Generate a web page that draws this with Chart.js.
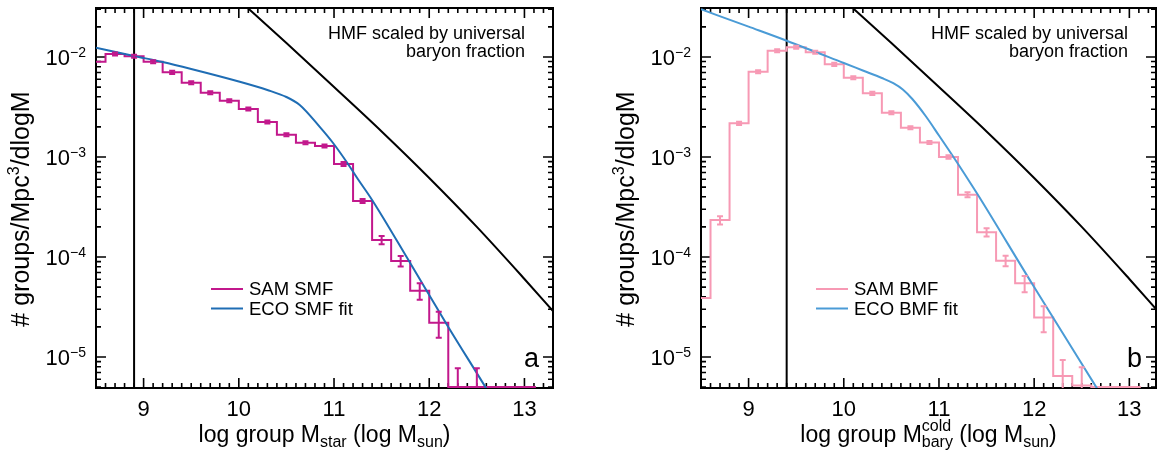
<!DOCTYPE html>
<html><head><meta charset="utf-8">
<script src="https://cdn.jsdelivr.net/npm/chart.js@4.4.1/dist/chart.umd.min.js"></script>
<style>
html,body{margin:0;padding:0;background:#fff;}
#wrap{position:relative;width:1157px;height:453px;overflow:hidden;}
canvas{position:absolute;top:0;}
</style></head><body>
<div id="wrap">
<canvas id="cA" width="578" height="453" style="left:0"></canvas>
<canvas id="cB" width="552" height="453" style="left:605px"></canvas>
</div>
<script>
// ---------- data ----------
const binEdges = [8.4,8.6,8.8,9.0,9.2,9.4,9.6,9.8,10.0,10.2,10.4,10.6,10.8,11.0,11.2,11.4,11.6,11.8,12.0,12.2,12.4,12.6,12.8,13.0,13.12];

const smfValues = [8.97e-3,1.07e-2,1.02e-2,8.97e-3,7.03e-3,5.53e-3,4.40e-3,3.66e-3,3.02e-3,2.24e-3,1.67e-3,1.39e-3,1.29e-3,8.51e-4,3.63e-4,1.48e-4,9.12e-5,4.60e-5,2.20e-5,0,0,0,0,0];
const smfErrors = [0,3.7e-4,3.6e-4,3.1e-4,2.5e-4,1.9e-4,1.5e-4,1.3e-4,1.1e-4,7.8e-5,5.8e-5,4.9e-5,4.5e-5,4.0e-5,1.7e-5,1.42e-5,1.1e-5,8.6e-6,6.4e-6,7.7e-6,7.7e-6,0,0,0];

const bmfValues = [3.9e-5,2.34e-4,2.17e-3,7.13e-3,1.156e-2,1.25e-2,1.114e-2,8.45e-3,6.2e-3,4.33e-3,2.77e-3,1.96e-3,1.40e-3,1.00e-3,4.2e-4,1.77e-4,9.2e-5,5.45e-5,2.49e-5,6.45e-6,5.2e-6,0,0,0];
const bmfErrors = [0,2.2e-5,7.6e-5,2.5e-4,4.0e-4,4.4e-4,3.9e-4,3.0e-4,2.2e-4,1.5e-4,9.7e-5,6.9e-5,4.9e-5,4.0e-5,2.5e-5,1.7e-5,1.1e-5,1.0e-5,7.2e-6,2.9e-6,2.7e-6,0,0,0];

const smfFitX = [8.5,8.9,9.2,9.5,10.0,10.3,10.5,10.64,10.85,10.99,11.14,11.25,11.4,11.8,12.2,12.59,12.8];
const smfFitY = [1.239e-2,1.023e-2,8.91e-3,7.59e-3,5.69e-3,4.68e-3,3.98e-3,3.31e-3,2.00e-3,1.38e-3,8.71e-4,6.03e-4,3.72e-4,8.71e-5,2.00e-5,5.01e-6,2.34e-6];

const bmfFitX = [8.5,9.0,9.4,10.0,10.2,10.4,10.52,10.62,10.72,10.86,11.0,11.18,11.35,11.42,11.98,12.66,12.8];
const bmfFitY = [3.00e-2,2.01e-2,1.455e-2,8.71e-3,7.33e-3,6.17e-3,5.47e-3,4.73e-3,3.80e-3,2.57e-3,1.64e-3,9.12e-4,5.13e-4,4.03e-4,5.37e-5,4.86e-6,2.95e-6];

const hmfX = [10.0,10.5,11.0,11.5,12.0,12.5,13.0,13.3];
const hmfY = [3.72e-2,1.38e-2,5.01e-3,1.80e-3,6.17e-4,2.00e-4,6.03e-5,2.88e-5];

const smfLimit = 8.9;
const bmfLimit = 9.4;

const xTickLabels = [9,10,11,12,13];
const yTickExponents = [-5,-4,-3,-2];

const Y_MIN = 4.9e-6, Y_MAX = 3.09e-2, ZERO_FLOOR = 5.0e-6;

// ---------- helpers ----------
const FONT = '"Liberation Sans", Arial, Helvetica, sans-serif';
function stepData(edges, vals) {
  const pts = vals.map((v, i) => ({ x: edges[i], y: v > 0 ? v : ZERO_FLOOR }));
  pts.push({ x: edges[edges.length - 1], y: pts[pts.length - 1].y });
  return pts;
}
function partWidth(ctx, p) {
  ctx.font = p.size + 'px ' + FONT;
  if (p.stack) return Math.max(ctx.measureText(p.sup).width, ctx.measureText(p.sub).width);
  return ctx.measureText(p.t).width;
}
function drawRich(ctx, parts, x, y, align) {
  let w = 0;
  for (const p of parts) w += partWidth(ctx, p);
  let cx = align === 'center' ? x - w / 2 : (align === 'right' ? x - w : x);
  ctx.textAlign = 'left';
  ctx.textBaseline = 'alphabetic';
  for (const p of parts) {
    const pw = partWidth(ctx, p);
    ctx.font = p.size + 'px ' + FONT;
    if (p.stack) {
      ctx.fillText(p.sup, cx, y + p.supDy);
      ctx.fillText(p.sub, cx, y + p.subDy);
    } else {
      ctx.fillText(p.t, cx, y + (p.dy || 0));
    }
    cx += pw;
  }
}

const panelPlugin = {
  id: 'panel',
  beforeDatasetsDraw(chart, args, o) {
    const ctx = chart.ctx, ca = chart.chartArea;
    const xs = chart.scales.x, ys = chart.scales.y;
    ctx.save();
    ctx.strokeStyle = '#000';
    ctx.lineWidth = 1.6;
    ctx.beginPath();
    for (let k = Math.ceil(xs.min * 10 - 1e-6); k <= Math.floor(xs.max * 10 + 1e-6); k++) {
      const px = xs.getPixelForValue(k / 10);
      const len = (k % 10 === 0) ? 10 : 5;
      ctx.moveTo(px, ca.bottom); ctx.lineTo(px, ca.bottom - len);
      ctx.moveTo(px, ca.top); ctx.lineTo(px, ca.top + len);
    }
    for (let e = -6; e <= -1; e++) {
      for (let m = 1; m <= 9; m++) {
        const v = m * Math.pow(10, e);
        if (v < ys.min || v > ys.max) continue;
        const py = ys.getPixelForValue(v);
        const len = m === 1 ? 10 : 5;
        ctx.moveTo(ca.left, py); ctx.lineTo(ca.left + len, py);
        ctx.moveTo(ca.right, py); ctx.lineTo(ca.right - len, py);
      }
    }
    ctx.stroke();
    ctx.lineWidth = 2;
    ctx.strokeRect(ca.left, ca.top, ca.right - ca.left, ca.bottom - ca.top);
    ctx.restore();
  },
  afterDatasetsDraw(chart, args, o) {
    const ctx = chart.ctx, ca = chart.chartArea;
    const xs = chart.scales.x, ys = chart.scales.y;
    // error bars
    ctx.save();
    ctx.beginPath();
    ctx.rect(ca.left, ca.top - 2, ca.right - ca.left, ca.bottom - ca.top + 2);
    ctx.clip();
    ctx.strokeStyle = o.errColor;
    ctx.lineWidth = 2;
    ctx.beginPath();
    for (let i = 0; i < o.values.length; i++) {
      const e = o.errors[i];
      if (!(e > 0)) continue;
      const v = o.values[i];
      const c = (binEdges[i] + binEdges[i + 1]) / 2;
      const px = xs.getPixelForValue(c);
      const yT = ys.getPixelForValue(v + e);
      const hasLow = v - e > 0;
      const yB = hasLow ? ys.getPixelForValue(v - e) : ca.bottom + 2;
      ctx.moveTo(px, yT); ctx.lineTo(px, yB);
      ctx.moveTo(px - 3, yT); ctx.lineTo(px + 3, yT);
      if (hasLow) { ctx.moveTo(px - 3, yB); ctx.lineTo(px + 3, yB); }
    }
    ctx.stroke();
    ctx.restore();

    ctx.save();
    ctx.fillStyle = '#000';
    for (const ex of yTickExponents) {
      const py = ys.getPixelForValue(Math.pow(10, ex));
      drawRich(ctx, [{ t: '10', size: 22, dy: 8 }, { t: '\u2212' + Math.abs(ex), size: 14, dy: 0 }], ca.left - 10, py, 'right');
    }
    drawRich(ctx, o.xTitle, (ca.left + ca.right) / 2, 442, 'center');
    ctx.save();
    ctx.translate(ca.left - 67, ca.top + 201);
    ctx.rotate(-Math.PI / 2);
    drawRich(ctx, [{ t: '# groups/Mpc', size: 25 }, { t: '3', size: 16, dy: -10 }, { t: '/dlogM', size: 25 }], 0, 0, 'center');
    ctx.restore();
    ctx.font = '18px ' + FONT;
    ctx.textAlign = 'right';
    ctx.textBaseline = 'alphabetic';
    ctx.fillText('HMF scaled by universal', ca.right - 28, ca.top + 31);
    ctx.fillText('baryon fraction', ca.right - 28, ca.top + 49);
    ctx.font = '27px ' + FONT;
    ctx.fillText(o.letter, ca.right - 14, ca.top + 359);
    const rows = chart.data.datasets.filter(d => d.legendRow !== undefined).sort((a, b) => a.legendRow - b.legendRow);
    rows.forEach((d, r) => {
      const ly = ca.top + 281 + r * 19.5;
      ctx.strokeStyle = d.borderColor;
      ctx.lineWidth = 2;
      ctx.beginPath();
      ctx.moveTo(ca.left + 115, ly); ctx.lineTo(ca.left + 147, ly);
      ctx.stroke();
      ctx.fillStyle = '#000';
      ctx.font = '18.5px ' + FONT;
      ctx.textAlign = 'left';
      ctx.textBaseline = 'middle';
      ctx.fillText(d.label, ca.left + 153, ly + 1);
    });
    ctx.restore();
  }
};

function makePanel(id, P) {
  return new Chart(document.getElementById(id), {
    type: 'line',
    data: {
      datasets: [
        { label: P.fitLabel, data: P.fitX.map((x, i) => ({ x, y: P.fitY[i] })), borderColor: P.fitColor, borderWidth: 2, pointRadius: 0, cubicInterpolationMode: 'monotone', legendRow: 1 },
        { label: P.histLabel, data: stepData(binEdges, P.histY), borderColor: P.histColor, borderWidth: 2, pointRadius: 0, stepped: true, legendRow: 0 },
        { label: 'HMF', data: hmfX.map((x, i) => ({ x, y: hmfY[i] })), borderColor: '#000', borderWidth: 2, pointRadius: 0, cubicInterpolationMode: 'monotone' },
        { label: 'limit', data: [{ x: P.limit, y: Y_MIN }, { x: P.limit, y: Y_MAX }], borderColor: '#000', borderWidth: 2, pointRadius: 0 }
      ]
    },
    options: {
      responsive: false,
      animation: false,
      events: [],
      layout: { padding: { top: 8, right: P.padRight, left: 0, bottom: 0 } },
      scales: {
        x: {
          type: 'linear', min: 8.5, max: P.xMax,
          grid: { display: false, drawTicks: false }, border: { display: false },
          ticks: { font: { family: FONT, size: 22 }, color: '#000', padding: 9, autoSkip: false, maxRotation: 0 },
          afterBuildTicks: s => { s.ticks = xTickLabels.map(v => ({ value: v })); },
          afterFit: s => { s.height = 65; }
        },
        y: {
          type: 'logarithmic', min: Y_MIN, max: Y_MAX,
          grid: { display: false, drawTicks: false }, border: { display: false },
          ticks: { display: false },
          afterFit: s => { s.width = 96; }
        }
      },
      plugins: {
        legend: { display: false },
        tooltip: { enabled: false },
        panel: { values: P.histY, errors: P.histErr, errColor: P.histColor, letter: P.letter, xTitle: P.xTitle }
      }
    },
    plugins: [panelPlugin]
  });
}

makePanel('cA', {
  fitLabel: 'ECO SMF fit', fitX: smfFitX, fitY: smfFitY, fitColor: '#1f6db4',
  histLabel: 'SAM SMF', histY: smfValues, histErr: smfErrors, histColor: '#c2188c',
  limit: smfLimit, letter: 'a', xMax: 13.3, padRight: 25,
  xTitle: [{ t: 'log group M', size: 23 }, { t: 'star', size: 16, dy: 5 }, { t: ' (log M', size: 23 }, { t: 'sun', size: 16, dy: 5 }, { t: ')', size: 23 }]
});
makePanel('cB', {
  fitLabel: 'ECO BMF fit', fitX: bmfFitX, fitY: bmfFitY, fitColor: '#4a9bd6',
  histLabel: 'SAM BMF', histY: bmfValues, histErr: bmfErrors, histColor: '#f799b4',
  limit: bmfLimit, letter: 'b', xMax: 13.28, padRight: 1,
  xTitle: [{ t: 'log group M', size: 23 }, { stack: true, sup: 'cold', sub: 'bary', size: 16, supDy: -11, subDy: 5 }, { t: ' (log M', size: 23 }, { t: 'sun', size: 16, dy: 5 }, { t: ')', size: 23 }]
});
</script>
</body></html>
